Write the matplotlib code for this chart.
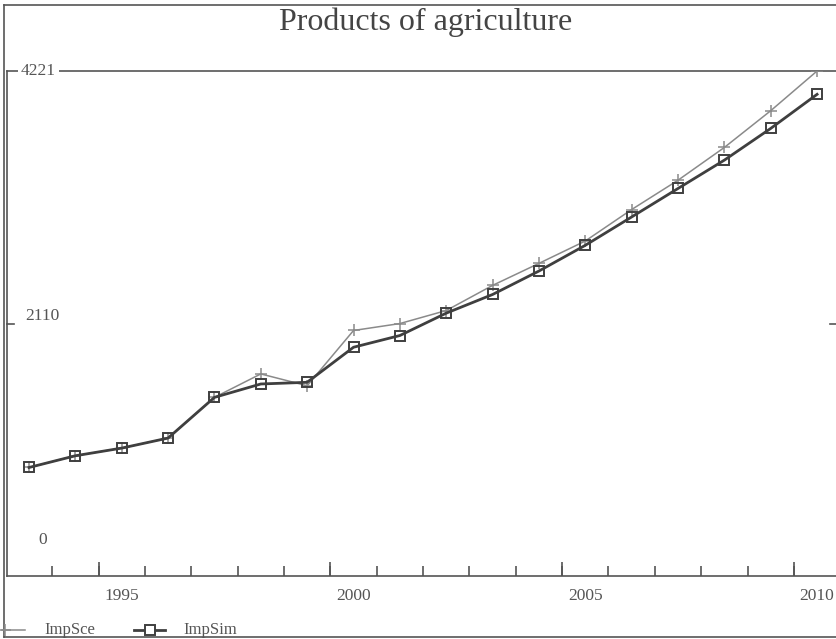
import matplotlib
matplotlib.use("Agg")
import matplotlib.pyplot as plt
from matplotlib.lines import Line2D
import matplotlib.transforms as mtransforms

plt.rcParams['font.family'] = ['Liberation Serif', 'DejaVu Serif']

years = list(range(1993, 2011))
imp_sce = [907, 1005, 1069, 1153, 1493, 1689, 1590, 2052, 2110, 2219,
           2429, 2613, 2800, 3063, 3308, 3582, 3889, 4221]
imp_sim = [907, 1005, 1069, 1153, 1493, 1605, 1619, 1912, 2010, 2197,
           2353, 2549, 2764, 3001, 3239, 3476, 3741, 4026]
year_labels = [1995, 2000, 2005, 2010]
y_labels = [0, 2110, 4221]
title = "Products of agriculture"

W, H = 837, 639
fig = plt.figure(figsize=(W / 100, H / 100), dpi=100)
fig.patch.set_facecolor('white')

ax = fig.add_axes([7 / W, (H - 576) / H, 1 - 7 / W, (576 - 71) / H])
ax.set_xlim(1992.525, 2010.43)
ax.set_ylim(0, 4221)

frame_col = '#555555'
text_col = '#555555'

for s in ['left', 'bottom', 'top', 'right']:
    ax.spines[s].set_color(frame_col)
    ax.spines[s].set_linewidth(1.2)

# series
ax.plot(years, imp_sce, color='#8a8a8a', lw=1.1, marker='+', ms=9,
        mew=1.1, zorder=3)
ax.plot(years, imp_sim, color='#3f3f3f', lw=2.0, marker='s', ms=7,
        mfc='none', mec='#3f3f3f', mew=1.4, zorder=4)

# x axis: year boundary ticks, longer every five years
boundaries = [y + 0.5 for y in years[:-1]]
ax.set_xticks(boundaries, minor=True)
ax.tick_params(axis='x', which='minor', direction='in', length=7,
               width=1.2, color=frame_col)
ax.set_xticks(year_labels)
ax.set_xticklabels([str(y) for y in year_labels])
ax.tick_params(axis='x', which='major', length=0, pad=9,
               labelsize=12.5, labelcolor=text_col)
big = [y - 0.5 for y in year_labels]
xdata_yaxes = mtransforms.blended_transform_factory(ax.transData, ax.transAxes)
xaxes_ydata = mtransforms.blended_transform_factory(ax.transAxes, ax.transData)
ax.vlines(big, 0, 14 / 505, transform=xdata_yaxes, color=frame_col, lw=1.2,
          clip_on=False)

# y axis: inline labels
ax.set_yticks([])
ax.tick_params(axis='y', length=0)
for x0, x1 in ((0, 0.009), (1, 0.991)):
    ax.plot([x0, x1], [y_labels[1], y_labels[1]], transform=xaxes_ydata,
            color=frame_col, lw=1.2, clip_on=False)
px = 1 / (W - 7)
ax.text(14 * px, y_labels[2], str(y_labels[2]), transform=xaxes_ydata,
        ha='left', va='center', fontsize=12.5, color=text_col,
        bbox=dict(facecolor='white', edgecolor='none', pad=2), zorder=5)
ax.text(18 * px, y_labels[1] + 8.375 * 8, str(y_labels[1]),
        transform=xaxes_ydata, ha='left', va='center', fontsize=12.5,
        color=text_col)
ax.text(31 * px, y_labels[0] + 8.375 * 36, str(y_labels[0]),
        transform=xaxes_ydata, ha='left', va='center', fontsize=12.5,
        color=text_col)

# title
fig.text(426 / W, 1 - 22 / H, title, ha='center', va='center',
         fontsize=23, color='#444444')

# outer frame
fig.add_artist(Line2D([4 / W, 4 / W], [1 - 5 / H, 1 - 637 / H],
                      transform=fig.transFigure, color=frame_col, lw=1.2))
fig.add_artist(Line2D([4 / W, 1], [1 - 5 / H, 1 - 5 / H],
                      transform=fig.transFigure, color=frame_col, lw=1.2))
fig.add_artist(Line2D([4 / W, 1], [1 - 637 / H, 1 - 637 / H],
                      transform=fig.transFigure, color=frame_col, lw=1.2))

# legend row
ly = 1 - 630 / H
fig.add_artist(Line2D([2 / W, 25 / W], [ly, ly], transform=fig.transFigure,
                      color='#8a8a8a', lw=1.1))
fig.add_artist(Line2D([5 / W], [ly], transform=fig.transFigure,
                      marker='+', ms=9, mew=1.1, color='#8a8a8a'))
fig.text(44 / W, ly, 'ImpSce', ha='left', va='center', fontsize=12,
         color=text_col)
fig.add_artist(Line2D([134 / W, 165 / W], [ly, ly], transform=fig.transFigure,
                      color='#3f3f3f', lw=2.0))
fig.add_artist(Line2D([150 / W], [ly], transform=fig.transFigure,
                      marker='s', ms=7, mfc='white', mec='#3f3f3f', mew=1.4))
fig.text(183 / W, ly, 'ImpSim', ha='left', va='center', fontsize=12,
         color=text_col)

fig.savefig('out.png', dpi=100, facecolor='white')
